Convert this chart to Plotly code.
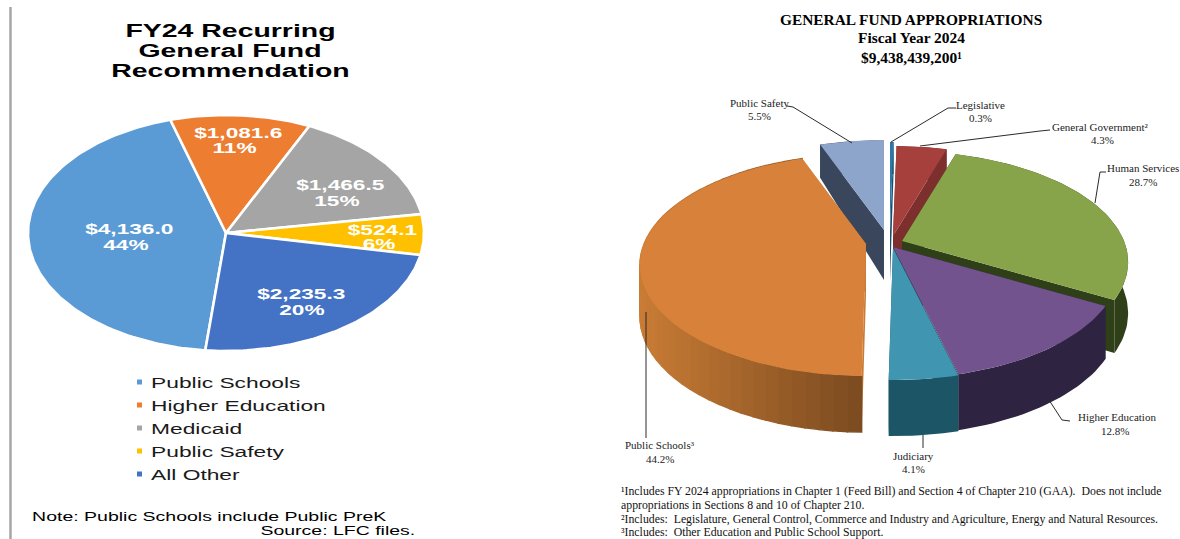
import math
import plotly.graph_objects as go

# ---------- data ----------
left_categories = ["Public Schools", "Higher Education", "Medicaid", "Public Safety", "All Other"]
left_values = [4136.0, 1081.6, 1466.5, 524.1, 2235.3]
left_amount_labels = ["$4,136.0", "$1,081.6", "$1,466.5", "$524.1", "$2,235.3"]
left_percent_labels = ["44%", "11%", "15%", "6%", "20%"]

right_categories = ["Legislative", "General Government", "Human Services", "Higher Education",
                    "Judiciary", "Public Schools", "Public Safety"]
right_values = [0.3, 4.3, 28.7, 12.8, 4.1, 44.2, 5.5]

# ---------- styles and layout constants ----------
left_colors = ["#5b9bd5", "#ed7d31", "#a5a5a5", "#ffc000", "#4472c4"]
LEFT_C = (226, 233)
LEFT_R = (198, 118)
LEFT_START = 186.0

top_colors = ["#2d78a8", "#a5403d", "#88a44a", "#72538d", "#4095b1", "#d8813a", "#8ea5cb"]
wall_colors = [("#1c4c6c", "#1c4c6c"), ("#7c2f2d", "#7c2f2d"), ("#2f3f18", "#2f3f18"),
               ("#2e2340", "#2e2340"), ("#1c5566", "#1c5566"), ("#c97c35", "#7a4a20"),
               ("#3a465c", "#3a465c")]
apex = [(890, 232), (893, 236), (902, 241), (893, 247), (893, 248), (866, 244), (884, 230)]
draw_order = [6, 0, 1, 2, 5, 3, 4]
RX, RY, P = 222, 107, 0.19
N_STRIPS = 36

fig = go.Figure()


def mix(c1, c2, t):
    a = [int(c1[i:i + 2], 16) for i in (1, 3, 5)]
    b = [int(c2[i:i + 2], 16) for i in (1, 3, 5)]
    return "rgb(%d,%d,%d)" % tuple(round(a[i] + (b[i] - a[i]) * t) for i in range(3))


def add_poly(xs, ys, color, name, line_color=None, line_width=0):
    fig.add_trace(go.Scatter(
        x=xs + xs[:1], y=ys + ys[:1], mode="lines", fill="toself", fillcolor=color,
        line=dict(color=line_color or color, width=line_width), name=name,
        showlegend=False, hoverinfo="name"))


# ---------- left pie ----------
total = sum(left_values)
angle = LEFT_START
for name, value, color in zip(left_categories, left_values, left_colors):
    sweep = value / total * 360
    steps = max(4, int(sweep))
    xs, ys = [LEFT_C[0]], [LEFT_C[1]]
    for i in range(steps + 1):
        t = math.radians(angle + sweep * i / steps)
        xs.append(LEFT_C[0] + LEFT_R[0] * math.sin(t))
        ys.append(LEFT_C[1] - LEFT_R[1] * math.cos(t))
    add_poly(xs, ys, color, name, "#ffffff", 2.6)
    angle += sweep


# ---------- right 3-D pie ----------
def project(theta):
    s, c = math.sin(theta), math.cos(theta)
    k = 1 / (1 + P * c)
    return RX * s * k, -RY * c * k, (50 - 18 * c if c > 0 else 50 - 6 * c)


total_r = sum(right_values)
spans = []
a0 = 0.0
for v in right_values:
    spans.append((a0, a0 + v / total_r * 360))
    a0 += v / total_r * 360

for idx in draw_order:
    a, b = spans[idx]
    ax, ay = apex[idx]
    name = right_categories[idx]
    steps = max(4, int((b - a) / 1.5))
    pts = [project(math.radians(a + (b - a) * i / steps)) for i in range(steps + 1)]
    wall_a, wall_b = wall_colors[idx]
    # radial walls
    for p in (pts[0], pts[-1]):
        add_poly([ax, ax + p[0], ax + p[0], ax],
                 [ay, ay + p[1], ay + p[1] + p[2], ay + 50],
                 wall_b if p is pts[-1] and idx != 5 else wall_a, name)
    # outer wall
    if wall_a == wall_b:
        add_poly([ax + p[0] for p in pts] + [ax + p[0] for p in reversed(pts)],
                 [ay + p[1] for p in pts] + [ay + p[1] + p[2] for p in reversed(pts)],
                 wall_a, name)
    else:
        xmin = min(p[0] for p in pts)
        xmax = max(p[0] for p in pts)
        chunk = max(1, len(pts) // N_STRIPS)
        for i in range(0, len(pts) - 1, chunk):
            seg = pts[i:i + chunk + 1]
            t = (sum(p[0] for p in seg) / len(seg) - xmin) / (xmax - xmin)
            col = mix(wall_a, wall_b, t)
            add_poly([ax + p[0] for p in seg] + [ax + p[0] for p in reversed(seg)],
                     [ay + p[1] for p in seg] + [ay + p[1] + p[2] for p in reversed(seg)],
                     col, name, col, 1.4)
    # top face
    add_poly([ax] + [ax + p[0] for p in pts], [ay] + [ay + p[1] for p in pts], top_colors[idx], name)

# ---------- legend swatches of the left chart ----------
legend_y = [382, 405, 428, 451, 474]
fig.add_trace(go.Scatter(x=[139.5] * 5, y=legend_y, mode="markers", showlegend=False,
                         marker=dict(symbol="square", size=5, color=left_colors),
                         text=left_categories, hoverinfo="text"))

# ---------- text ----------
annotations = []


def label(x, y, text, size, family, color="#000000", bold=False, anchor="center", stretch=None):
    ann = dict(x=x, y=y, xref="x", yref="y", text=f"<b>{text}</b>" if bold else text,
               showarrow=False, xanchor=anchor, yanchor="middle",
               font=dict(size=size, family=family, color=color))
    if stretch:
        ann["name"] = str(stretch)
    annotations.append(ann)


SANS = "Liberation Sans"
SERIF = "Liberation Serif"
for y, t in zip([31, 51, 71], ["FY24 Recurring", "General Fund", "Recommendation"]):
    label(230, y, t, 18, SANS, bold=True, stretch=1.58)

left_pos = [((129, 229), (126, 245)), ((238, 133), (235, 148)), ((340, 185), (337, 201)),
            ((382, 230), (379, 244)), ((301, 294), (302, 310))]
for (p1, p2), am, pc in zip(left_pos, left_amount_labels, left_percent_labels):
    label(p1[0], p1[1], am, 14, SANS, "#ffffff", True, stretch=1.62)
    label(p2[0], p2[1], pc, 14, SANS, "#ffffff", True, stretch=1.62)

for y, t in zip(legend_y, left_categories):
    label(149, y, t, 15, SANS, "#1a1a1a", anchor="left", stretch=1.52)
label(30, 516, "Note: Public Schools include Public PreK", 13, SANS, anchor="left", stretch=1.5)
label(417, 530, "Source: LFC files.", 13, SANS, anchor="right", stretch=1.5)

label(911, 19, "GENERAL FUND APPROPRIATIONS", 15.4, SERIF, bold=True)
label(911, 37, "Fiscal Year 2024", 15.4, SERIF, bold=True)
label(911, 57, "$9,438,439,200¹", 15.4, SERIF, bold=True)

right_labels = [
    (759, 103, "Public Safety"), (759, 116, "5.5%"),
    (980, 105, "Legislative"), (980, 118, "0.3%"),
    (1100, 127, "General Government²"), (1102, 140, "4.3%"),
    (1143, 168, "Human Services"), (1143, 182, "28.7%"),
    (660, 445, "Public Schools³"), (660, 459, "44.2%"),
    (913, 456, "Judiciary"), (913, 469, "4.1%"),
    (1117, 417, "Higher Education"), (1115, 431, "12.8%"),
]
for x, y, t in right_labels:
    label(x, y, t, 11, SERIF, "#222222")

foot = [
    (491, "¹Includes FY 2024 appropriations in Chapter 1 (Feed Bill) and Section 4 of Chapter 210 (GAA).  Does not include"),
    (505, "appropriations in Sections 8 and 10 of Chapter 210."),
    (519, "²Includes:  Legislature, General Control, Commerce and Industry and Agriculture, Energy and Natural Resources."),
    (532, "³Includes:  Other Education and Public School Support."),
]
for y, t in foot:
    label(619, y, t, 11.8, SERIF, "#111111", anchor="left")

# ---------- leader lines and rule ----------
leaders = [
    [(787, 106), (793, 107), (852, 143)],
    [(956, 108), (948, 108), (891, 142)],
    [(1050, 130), (1040, 131), (920, 146)],
    [(1106, 172), (1100, 172), (1095, 203)],
    [(646, 312), (646, 438)],
    [(923, 435), (923, 448)],
    [(1049, 400), (1062, 420), (1070, 421)],
]
shapes = []
for pts in leaders:
    path = "M " + " L ".join(f"{x},{y}" for x, y in pts)
    shapes.append(dict(type="path", path=path, xref="x", yref="y",
                       line=dict(color="#2a2a2a", width=1)))
shapes.append(dict(type="line", x0=10.5, x1=10.5, y0=7, y1=539, xref="x", yref="y",
                   line=dict(color="#a6a6a6", width=2.5)))

fig.update_layout(
    width=1180, height=539, margin=dict(l=0, r=0, t=0, b=0),
    paper_bgcolor="#ffffff", plot_bgcolor="#ffffff", showlegend=False,
    xaxis=dict(range=[0, 1180], visible=False, fixedrange=True),
    yaxis=dict(range=[539, 0], visible=False, fixedrange=True),
    annotations=annotations, shapes=shapes,
)

# no page margin; the left panel's sans text is horizontally stretched in the reference
post = """
document.documentElement.style.margin = '0';
document.documentElement.style.overflow = 'hidden';
document.body.style.margin = '0';
var gd = document.getElementById('{plot_id}');
gd.querySelectorAll('.annotation').forEach(function (g) {
  var opt = gd.layout.annotations[+g.getAttribute('data-index')];
  if (!opt.name) return;
  var t = g.querySelector('text');
  t.style.transformBox = 'fill-box';
  t.style.transformOrigin = (opt.xanchor === 'left' ? 'left' : opt.xanchor === 'right' ? 'right' : 'center') + ' center';
  t.style.transform = 'scaleX(' + opt.name + ')';
});
"""
fig.write_html("out.html", post_script=post, config={"displayModeBar": False})
